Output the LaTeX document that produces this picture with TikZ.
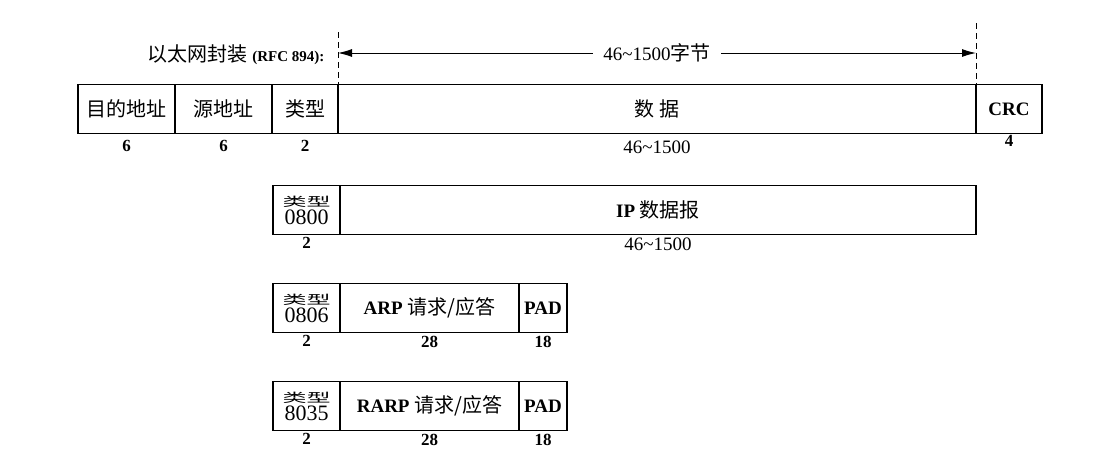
\documentclass[tikz,border=0pt]{standalone}
\usepackage{graphicx}
\usepackage{fontspec}
\setmainfont{Liberation Serif}
\newfontfamily\cjk{Noto Sans CJK SC}
\usetikzlibrary{positioning,arrows.meta}
\newcommand{\zh}[1]{{\cjk\fontsize{20}{22}\selectfont #1}}
\newcommand{\typelabel}[1]{\scalebox{1.2}[0.62]{\zh{类型}}\\#1}
\tikzset{
  field/.style={draw, line width=1.1pt, minimum height=49pt, inner sep=0pt, outer sep=0pt,
    font=\fontsize{19}{22}\selectfont},
  typefield/.style={field, minimum width=67pt, align=center, font=\fontsize{22}{18}\selectfont},
  len/.style={anchor=north, inner sep=0pt, font=\bfseries\fontsize{17}{19}\selectfont},
  lenplain/.style={len, font=\fontsize{19}{21}\selectfont},
  boundary/.style={line width=1pt, dash pattern=on 6pt off 4pt},
}

\begin{document}
\begin{tikzpicture}[x=1pt, y=-1pt, >={Latex[length=14pt,width=8pt]}]
    \useasboundingbox (0,0) rectangle (1104,466);

    % Ethernet frame (RFC 894)
    \node[field, minimum width=97pt, anchor=west] (dst) at (78,109) {\zh{目的地址}};
    \node[field, minimum width=97pt, right=0pt of dst] (src) {\zh{源地址}};
    \node[field, minimum width=66pt, right=0pt of src] (type) {\zh{类型}};
    \node[field, minimum width=638pt, right=0pt of type] (data) {\zh{数\ 据}};
    \node[field, minimum width=66pt, right=0pt of data] (crc) {\textbf{CRC}};
    \node[len] (ldst) at ([yshift=-7pt]dst.south) {6};
    \node[len] (lsrc) at ([yshift=-7pt]src.south) {6};
    \node[len] (ltype) at ([yshift=-7pt]type.south) {2};
    \node[lenplain] (ldata) at ([yshift=-7pt]data.south) {46\textasciitilde1500};
    \node[len] (lcrc) at ([yshift=-2pt]crc.south) {4};

    % data span
    \node[anchor=east, font=\fontsize{19}{22}\selectfont] (encap) at (328,55)
        {\zh{以太网封装} \textbf{\fontsize{15}{17}\selectfont (RFC 894):}};
    \coordinate (ltop) at (338,32);
    \coordinate (rtop) at (976,23);
    \draw[boundary] (ltop) -- (type.north east);
    \draw[boundary] (rtop) -- (data.north east);
    \coordinate (la) at (338,53);
    \coordinate (ra) at (976,53);
    \draw[<->, line width=1pt] (la) -- (ra)
        node[midway, fill=white, inner xsep=10pt, font=\fontsize{19}{22}\selectfont] (span) {46\textasciitilde1500\zh{字节}};

    % IP
    \node[typefield, anchor=west] (iptype) at (273,210) {\typelabel{0800}};
    \node[field, minimum width=636pt, right=0pt of iptype] (ip) {\textbf{IP} \zh{数据报}};
    \node[len] (liptype) at ([yshift=-3pt]iptype.south) {2};
    \node[lenplain] (lip) at ([yshift=-3pt]ip.south) {46\textasciitilde1500};

    % ARP
    \node[typefield, anchor=west] (arptype) at (273,308) {\typelabel{0806}};
    \node[field, minimum width=179pt, right=0pt of arptype] (arp) {\textbf{ARP} \zh{请求/应答}};
    \node[field, minimum width=48pt, right=0pt of arp] (arppad) {\textbf{PAD}};
    \node[len] (larptype) at ([yshift=-3pt]arptype.south) {2};
    \node[len] (larp) at ([yshift=-3pt]arp.south) {28};
    \node[len] (larppad) at ([yshift=-3pt]arppad.south) {18};

    % RARP
    \node[typefield, anchor=west] (rarptype) at (273,406) {\typelabel{8035}};
    \node[field, minimum width=179pt, right=0pt of rarptype] (rarp) {\textbf{RARP} \zh{请求/应答}};
    \node[field, minimum width=48pt, right=0pt of rarp] (rarppad) {\textbf{PAD}};
    \node[len] (lrarptype) at ([yshift=-3pt]rarptype.south) {2};
    \node[len] (lrarp) at ([yshift=-3pt]rarp.south) {28};
    \node[len] (lrarppad) at ([yshift=-3pt]rarppad.south) {18};
\end{tikzpicture}
\end{document}
